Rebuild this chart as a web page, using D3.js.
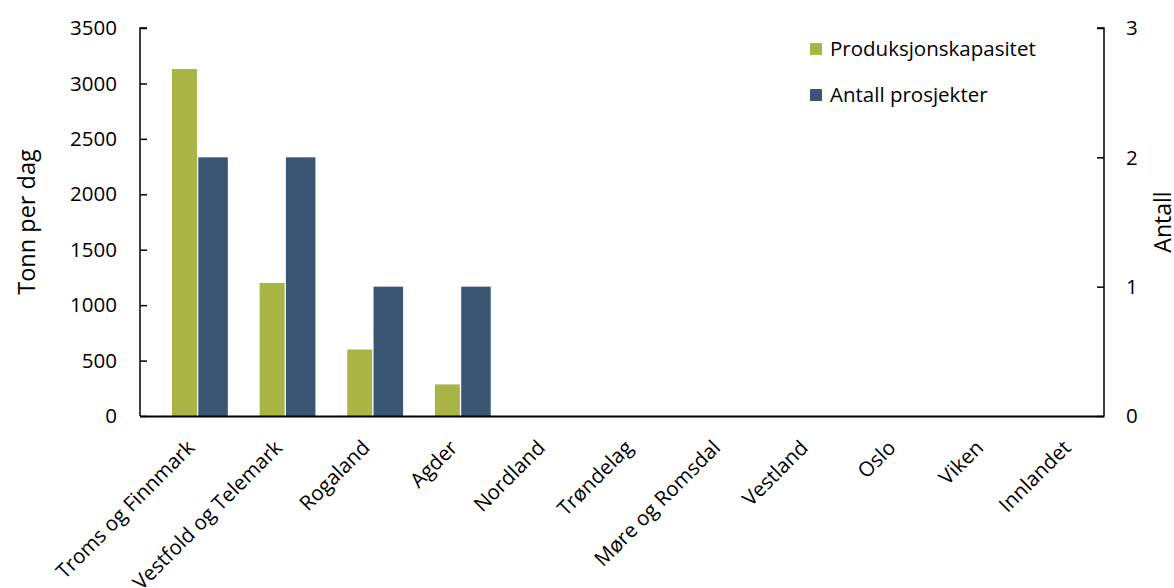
<!DOCTYPE html>
<html><head><meta charset="utf-8">
<script src="https://cdn.jsdelivr.net/npm/d3@7"></script>
<style>body{margin:0;background:#fff}svg{display:block}text{font-family:"Open Sans",sans-serif;fill:#000}</style>
</head><body><svg id="c" width="1174" height="588"></svg>
<script>
const categories = ["Troms og Finnmark","Vestfold og Telemark","Rogaland","Agder","Nordland","Trøndelag","Møre og Romsdal","Vestland","Oslo","Viken","Innlandet"];
const kapasitet = [3130,1200,600,285,0,0,0,0,0,0,0];
const prosjekter = [2,2,1,1,0,0,0,0,0,0,0];
const leftTicks = [0,500,1000,1500,2000,2500,3000,3500];
const rightTicks = [0,1,2,3];
const seriesNames = ["Produksjonskapasitet","Antall prosjekter"];
const colors = ["#A8B443","#3A5673"];

const svg = d3.select("#c");
const L = 140, R = 1104, T = 28, B = 416;
const x = d3.scaleBand().domain(categories).range([L, R]);
const yL = d3.scaleLinear().domain([0,3500]).range([B, T]);
const yR = d3.scaleLinear().domain([0,3]).range([B, T]);
const bw = x.bandwidth();

// bars
svg.append("g").selectAll("rect").data(categories).join("rect")
  .attr("x", d => x(d) + bw*0.365).attr("width", bw*0.285)
  .attr("y", (d,i) => yL(kapasitet[i])).attr("height", (d,i) => B - yL(kapasitet[i]))
  .attr("fill", colors[0]);
svg.append("g").selectAll("rect").data(categories).join("rect")
  .attr("x", d => x(d) + bw*0.665).attr("width", bw*0.337)
  .attr("y", (d,i) => yR(prosjekter[i])).attr("height", (d,i) => B - yR(prosjekter[i]))
  .attr("fill", colors[1]);

// axes
const fs = 20.5;
const gl = svg.append("g").attr("transform", `translate(${L},0)`)
  .call(d3.axisRight(yL).tickValues(leftTicks).tickSize(7).tickFormat(d3.format("d")));
gl.selectAll("text").remove();
gl.selectAll("line,path").attr("stroke","#000").attr("stroke-width",1.5);
gl.select(".domain").attr("d", `M7,${T}H0V${B}`);
svg.append("g").selectAll("text").data(leftTicks).join("text")
  .attr("x", 117).attr("y", d => yL(d)).attr("dy","0.35em").attr("text-anchor","end")
  .style("font-size", fs+"px").text(d => d);

const gr = svg.append("g").attr("transform", `translate(${R},0)`)
  .call(d3.axisLeft(yR).tickValues(rightTicks).tickSize(7));
gr.selectAll("text").remove();
gr.selectAll("line,path").attr("stroke","#000").attr("stroke-width",1.5);
gr.select(".domain").attr("d", `M-7,${T}H0V${B}`);
svg.append("g").selectAll("text").data(rightTicks).join("text")
  .attr("x", 1126).attr("y", d => yR(d)).attr("dy","0.35em").attr("text-anchor","start")
  .style("font-size", fs+"px").text(d => d);

// x axis
const gx = svg.append("g").attr("transform", `translate(0,${B})`)
  .call(d3.axisBottom(x).tickSize(0).tickSizeOuter(0));
gx.select(".domain").attr("stroke","#000").attr("stroke-width",2);
gx.selectAll("text").remove();
svg.append("g").selectAll("text").data(categories).join("text")
  .attr("transform", d => `translate(${x(d)+bw/2+12},449) rotate(-45)`)
  .attr("text-anchor","end").style("font-size", fs+"px").text(d => d);

// titles
svg.append("text").attr("transform","translate(35,222) rotate(-90)").attr("text-anchor","middle")
  .style("font-size","23.5px").text("Tonn per dag");
svg.append("text").attr("transform","translate(1171,222) rotate(-90)").attr("text-anchor","middle")
  .style("font-size","23px").text("Antall");

// legend
const lg = svg.append("g");
seriesNames.forEach((n,i) => {
  lg.append("rect").attr("x",810).attr("y",43+i*46).attr("width",12).attr("height",12).attr("fill",colors[i]);
  lg.append("text").attr("x",830).attr("y",49+i*46).attr("dy","0.35em").style("font-size",fs+"px").text(n);
});
</script></body></html>
